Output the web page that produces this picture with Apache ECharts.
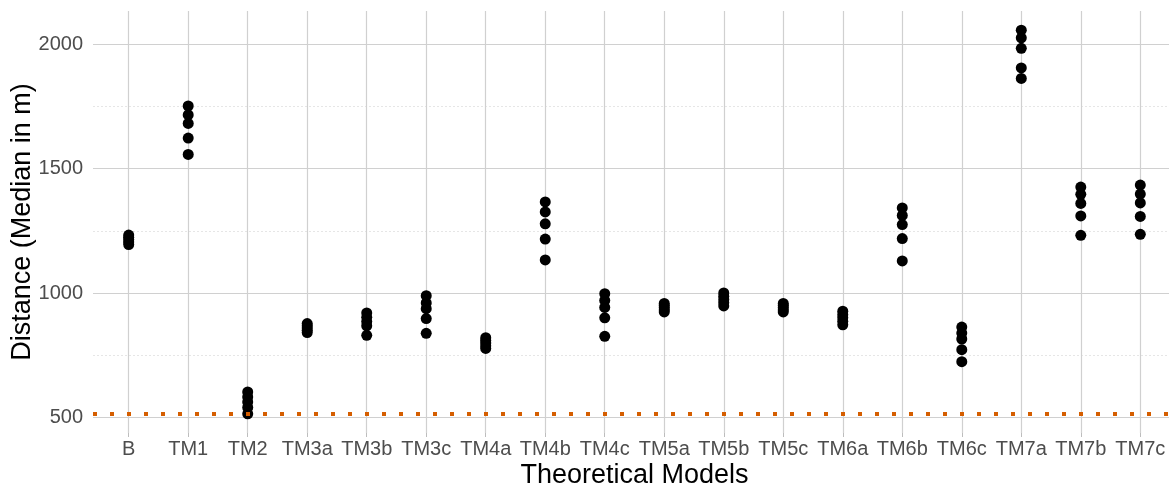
<!DOCTYPE html>
<html>
<head>
<meta charset="utf-8">
<script src="https://cdn.jsdelivr.net/npm/echarts@6/dist/echarts.min.js"></script>
<style>html,body{margin:0;padding:0;background:#fff}#c{width:1169px;height:486px}</style>
</head>
<body>
<div id="c"></div>
<script>
// ---- data ----
const categories = ['B','TM1','TM2','TM3a','TM3b','TM3c','TM4a','TM4b','TM4c','TM5a','TM5b','TM5c','TM6a','TM6b','TM6c','TM7a','TM7b','TM7c'];
// median distances (m), five runs per model, in category order
const distB    = [1233, 1224, 1215, 1205, 1195];
const distTM1  = [1752, 1716, 1682, 1623, 1557];
const distTM2  = [602, 582, 562, 540, 514];
const distTM3a = [877, 868, 859, 850, 841];
const distTM3b = [920, 902, 885, 868, 830];
const distTM3c = [989, 960, 937, 897, 838];
const distTM4a = [820, 809, 799, 788, 777];
const distTM4b = [1366, 1326, 1278, 1217, 1133];
const distTM4c = [997, 970, 942, 900, 826];
const distTM5a = [958, 950, 941, 932, 924];
const distTM5b = [1000, 987, 974, 961, 948];
const distTM5c = [958, 950, 941, 932, 924];
const distTM6a = [927, 913, 900, 886, 872];
const distTM6b = [1342, 1312, 1275, 1219, 1129];
const distTM6c = [863, 839, 815, 772, 724];
const distTM7a = [2057, 2026, 1984, 1905, 1863];
const distTM7b = [1426, 1397, 1360, 1310, 1232];
const distTM7c = [1434, 1398, 1362, 1308, 1236];
const distances = [distB, distTM1, distTM2, distTM3a, distTM3b, distTM3c, distTM4a, distTM4b, distTM4c, distTM5a, distTM5b, distTM5c, distTM6a, distTM6b, distTM6c, distTM7a, distTM7b, distTM7c];
const yTicks = [500, 1000, 1500, 2000];
const yMinorTicks = [750, 1250, 1750];
const referenceDistance = 514;

// ---- build ----
const catIdx = categories.map((_, i) => i);
const points = [];
distances.forEach((arr, i) => arr.forEach(v => points.push([i, v])));
const FONT = '"Liberation Sans", Arial, sans-serif';
const GRID_MAJOR = '#d0d0d0';
const GRID_MINOR = '#e6e6e6';

const chart = echarts.init(document.getElementById('c'), null, {renderer: 'canvas'});
chart.setOption({
  animation: false,
  backgroundColor: '#ffffff',
  grid: {left: 93, top: 11, width: 1083, height: 422, containLabel: false, outerBoundsMode: 'none'},
  xAxis: {
    type: 'value', min: -0.6, max: 17.6,
    name: 'Theoretical Models', nameLocation: 'middle', nameGap: 29, nameMoveOverlap: false,
    nameTextStyle: {fontFamily: FONT, fontSize: 27, color: '#000'},
    axisLine: {show: false},
    axisTick: {show: true, length: 4, customValues: catIdx, lineStyle: {color: '#bdbdbd', width: 1}},
    axisLabel: {customValues: catIdx, formatter: v => categories[Math.round(v)] || '', fontFamily: FONT, fontSize: 20, color: '#4d4d4d', margin: 6},
    splitLine: {show: false}
  },
  yAxis: {
    type: 'value', min: 437, max: 2134,
    name: 'Distance (Median in m)', nameLocation: 'middle', nameRotate: 90, nameGap: 57, nameMoveOverlap: false,
    nameTextStyle: {fontFamily: FONT, fontSize: 27, color: '#000'},
    axisLine: {show: false},
    axisTick: {show: true, length: 6, customValues: yTicks, lineStyle: {color: '#bdbdbd', width: 1}},
    axisLabel: {customValues: yTicks, formatter: v => String(v), fontFamily: FONT, fontSize: 20, color: '#4d4d4d', margin: 10},
    splitLine: {show: false}
  },
  series: [
    {
      type: 'line', data: [], silent: true, z: 1, zlevel: 0,
      markLine: {
        silent: true, symbol: 'none', label: {show: false}, animation: false, z: 1,
        data: [
          ...yMinorTicks.map(v => ({yAxis: v, lineStyle: {color: GRID_MINOR, width: 1, type: [2, 2]}})),
          ...yTicks.map(v => ({yAxis: v, lineStyle: {color: GRID_MAJOR, width: 1.2, type: 'solid'}})),
          ...catIdx.map(i => ({xAxis: i, lineStyle: {color: GRID_MAJOR, width: 1.2, type: 'solid'}}))
        ]
      }
    },
    {
      type: 'scatter', data: points, symbol: 'circle', symbolSize: 11, z: 10,
      itemStyle: {color: '#000000', opacity: 1}, silent: true
    },
    {
      type: 'line', data: [], silent: true, z: 20,
      markLine: {
        silent: true, symbol: 'none', label: {show: false}, animation: false, z: 20,
        data: [{yAxis: referenceDistance}],
        lineStyle: {color: '#D55E00', width: 4, type: [4, 13], cap: 'butt', opacity: 1}
      }
    }
  ]
});
</script>
</body>
</html>
